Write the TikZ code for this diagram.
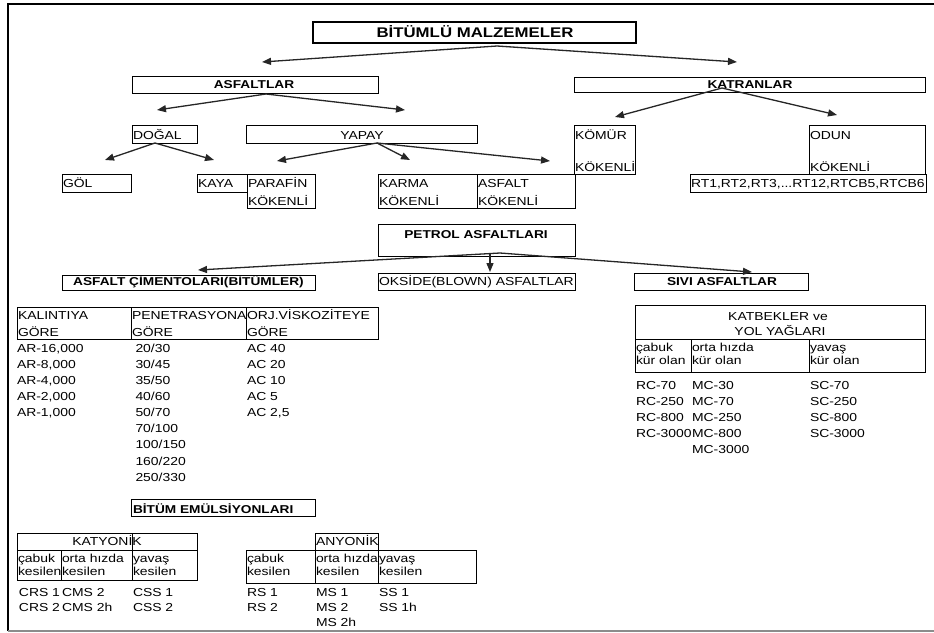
\documentclass[tikz,border=0pt]{standalone}
\usepackage{fontspec}
\setmainfont{Liberation Sans}[FakeStretch=1.2]
\usetikzlibrary{arrows.meta}
\newcommand{\bx}[6][]{\node[box,#1,minimum width={#5pt-#3pt},minimum height={#6pt-#4pt}] (#2) at (#3,#4) {};}
\begin{document}
\begin{tikzpicture}[x=1pt,y=-1pt,
  box/.style={draw=black,line width=0.9pt,inner sep=0pt,outer sep=0pt,anchor=north west},
  txt/.style={inner sep=0pt,outer sep=0pt,anchor=base west,text=black,font=\fontsize{11.6}{13}\selectfont},
  ctxt/.style={txt,anchor=base},
  btxt/.style={txt,font=\fontsize{11.4}{13}\selectfont\bfseries},
  bctxt/.style={btxt,anchor=base},
  arr/.style={line width=1.3pt,draw=black!85,-{Triangle[length=9pt,width=7pt]}}]
\useasboundingbox (0,0) rectangle (934,632);
% frame
\draw[line width=1.5pt] (8,631) -- (8,4) -- (934,4);
\draw[line width=1.2pt,black!45] (8,631) -- (934,631);

% top level
\bx[line width=1.8pt]{title}{313}{22}{636}{43}
\node[bctxt,font=\fontsize{14}{16}\selectfont\bfseries] (titlet) at (475,37.5) {BİTÜMLÜ MALZEMELER};
\bx{asf}{132}{76}{378}{93}
\node[bctxt] (asft) at (254,88.7) {ASFALTLAR};
\bx{kat}{574}{77}{925}{92}
\node[bctxt] (katt) at (750,88.5) {KATRANLAR};

\coordinate (t0) at (497,46);
\coordinate (ta1) at (262,62);
\coordinate (ta2) at (737,62);
\draw[arr] (t0) -- (ta1);
\draw[arr] (t0) -- (ta2);

% asfaltlar branch
\bx{dog}{132}{125}{197}{143}
\node[txt] (dogt) at (133,139) {DOĞAL};
\bx{yap}{246}{125}{477}{143}
\node[ctxt] (yapt) at (362,139) {YAPAY};
\coordinate (as0) at (266,94);
\coordinate (as1) at (157,110);
\coordinate (as2) at (405,110);
\draw[arr] (as0) -- (as1);
\draw[arr] (as0) -- (as2);

\bx{gol}{62}{174}{131}{192}
\node[txt] (golt) at (63,187.5) {GÖL};
\bx{kaya}{197}{174}{247}{192}
\node[txt] (kayat) at (198,187.5) {KAYA};
\coordinate (do0) at (155,143);
\coordinate (do1) at (105,160);
\coordinate (do2) at (214,160);
\draw[arr] (do0) -- (do1);
\draw[arr] (do0) -- (do2);

\bx{par}{247}{174}{315}{208}
\node[txt] (part1) at (248,187.5) {PARAFİN};
\node[txt] (part2) at (248,205.5) {KÖKENLİ};
\bx{kar}{378}{174}{477}{208}
\node[txt] (kart1) at (379,187.5) {KARMA};
\node[txt] (kart2) at (379,205.5) {KÖKENLİ};
\bx{asfk}{477}{174}{575}{208}
\node[txt] (asfkt1) at (478,187.5) {ASFALT};
\node[txt] (asfkt2) at (478,205.5) {KÖKENLİ};
\coordinate (ya0) at (377,143);
\coordinate (ya1) at (277,161);
\coordinate (ya2) at (410,160);
\coordinate (ya3) at (550,161);
\draw[arr] (ya0) -- (ya1);
\draw[arr] (ya0) -- (ya2);
\draw[arr] (ya0) -- (ya3);

% katranlar branch
\bx{kom}{574}{125}{635}{174}
\node[txt] (komt1) at (575,139) {KÖMÜR};
\node[txt] (komt2) at (575,171) {KÖKENLİ};
\bx{odun}{809}{125}{925}{174}
\node[txt] (odunt1) at (810,139) {ODUN};
\node[txt] (odunt2) at (810,171) {KÖKENLİ};
\bx{rt}{690}{174}{926}{192}
\node[txt] (rtt) at (691,187.5) {RT1,RT2,RT3,...RT12,RTCB5,RTCB6};
\coordinate (ka0) at (722,88);
\coordinate (ka1) at (615,117);
\coordinate (ka2) at (837,115);
\draw[arr] (ka0) -- (ka1);
\draw[arr] (ka0) -- (ka2);

% petrol asfaltlari
\bx{pet}{378}{224}{575}{256}
\node[bctxt] (pett) at (476,238) {PETROL ASFALTLARI};
\bx{cim}{62}{275}{315}{290}
\node[bctxt] (cimt) at (188.5,285.5) {ASFALT ÇİMENTOLARI(BİTÜMLER)};
\bx{oks}{378}{273}{575}{290}
\node[txt] (okst) at (379,285.5) {OKSİDE(BLOWN) ASFALTLAR};
\bx{siv}{634}{273}{808}{290}
\node[bctxt] (sivt) at (722,285.5) {SIVI ASFALTLAR};
\coordinate (pe0) at (500,253);
\coordinate (pe1) at (198,270);
\coordinate (pe3) at (752,272);
\coordinate (pe2s) at (490,254);
\coordinate (pe2) at (490,272);
\draw[arr] (pe0) -- (pe1);
\draw[arr] (pe0) -- (pe3);
\draw[arr] (pe2s) -- (pe2);

% bitumen table
\bx{h1}{17}{307}{131}{339}
\bx{h2}{131}{307}{246}{339}
\bx{h3}{246}{307}{378}{339}
\node[txt] (h1a) at (18,319) {KALINTIYA};
\node[txt] (h1b) at (18,336) {GÖRE};
\node[txt] (h2a) at (132,319) {PENETRASYONA};
\node[txt] (h2b) at (132,336) {GÖRE};
\node[txt] (h3a) at (247,319) {ORJ.VİSKOZİTEYE};
\node[txt] (h3b) at (247,336) {GÖRE};
\foreach \t [count=\i] in {{AR-16,000},{AR-8,000},{AR-4,000},{AR-2,000},{AR-1,000}}
  \node[txt] (ar\i) at (17,{352.3+16.1*(\i-1)}) {\t};
\foreach \t [count=\i] in {20/30,30/45,35/50,40/60,50/70,70/100,100/150,160/220,250/330}
  \node[txt] (pn\i) at (135.5,{352.3+16.1*(\i-1)}) {\t};
\foreach \t [count=\i] in {AC 40,AC 20,AC 10,AC 5,{AC 2,5}}
  \node[txt] (ac\i) at (247,{352.3+16.1*(\i-1)}) {\t};

% sivi asfaltlar table
\bx{kb}{635}{305}{925}{339}
\node[ctxt] (kbt1) at (778,320) {KATBEKLER ve};
\node[ctxt] (kbt2) at (780,335) {YOL YAĞLARI};
\bx{kb1}{635}{339}{691}{372}
\bx{kb2}{691}{339}{809}{372}
\bx{kb3}{809}{339}{925}{372}
\node[txt] (kb1a) at (636,351.5) {çabuk};
\node[txt] (kb1b) at (636,364.5) {kür olan};
\node[txt] (kb2a) at (692,351.5) {orta hızda};
\node[txt] (kb2b) at (692,364.5) {kür olan};
\node[txt] (kb3a) at (810,351.5) {yavaş};
\node[txt] (kb3b) at (810,364.5) {kür olan};
\foreach \t [count=\i] in {RC-70,RC-250,RC-800,RC-3000}
  \node[txt] (rc\i) at (636,{389+16*(\i-1)}) {\t};
\foreach \t [count=\i] in {MC-30,MC-70,MC-250,MC-800,MC-3000}
  \node[txt] (mc\i) at (692,{389+16*(\i-1)}) {\t};
\foreach \t [count=\i] in {SC-70,SC-250,SC-800,SC-3000}
  \node[txt] (sc\i) at (810,{389+16*(\i-1)}) {\t};

% emulsions
\bx{em}{131}{499}{315}{516}
\node[btxt] (emt) at (133,513.5) {BİTÜM EMÜLSİYONLARI};

\bx{cat}{17}{533}{197}{550}
\draw[line width=0.9pt] (132,533) -- (132,550);
\node[ctxt] (catt) at (107,545.5) {KATYONİK};
\bx{c1}{17}{550}{61}{580}
\bx{c2}{61}{550}{132}{580}
\bx{c3}{132}{550}{197}{580}
\node[txt] (c1a) at (18,562) {çabuk};
\node[txt] (c1b) at (18,575.5) {kesilen};
\node[txt] (c2a) at (62,562) {orta hızda};
\node[txt] (c2b) at (62,575.5) {kesilen};
\node[txt] (c3a) at (133,562) {yavaş};
\node[txt] (c3b) at (133,575.5) {kesilen};
\foreach \t [count=\i] in {CRS 1,CRS 2}
  \node[txt] (crs\i) at (19,{596+15.2*(\i-1)}) {\t};
\foreach \t [count=\i] in {CMS 2,CMS 2h}
  \node[txt] (cms\i) at (62,{596+15.2*(\i-1)}) {\t};
\foreach \t [count=\i] in {CSS 1,CSS 2}
  \node[txt] (css\i) at (133,{596+15.2*(\i-1)}) {\t};

\bx{an}{315}{533}{378}{550}
\node[txt] (ant) at (316,545.5) {ANYONİK};
\bx{a1}{246}{550}{315}{583}
\bx{a2}{315}{550}{378}{583}
\bx{a3}{378}{550}{476}{583}
\node[txt] (a1a) at (247,562) {çabuk};
\node[txt] (a1b) at (247,575.5) {kesilen};
\node[txt] (a2a) at (316,562) {orta hızda};
\node[txt] (a2b) at (316,575.5) {kesilen};
\node[txt] (a3a) at (379,562) {yavaş};
\node[txt] (a3b) at (379,575.5) {kesilen};
\foreach \t [count=\i] in {RS 1,RS 2}
  \node[txt] (rs\i) at (247,{596+15.2*(\i-1)}) {\t};
\foreach \t [count=\i] in {MS 1,MS 2,MS 2h}
  \node[txt] (ms\i) at (316,{596+15.2*(\i-1)}) {\t};
\foreach \t [count=\i] in {SS 1,SS 1h}
  \node[txt] (ss\i) at (379,{596+15.2*(\i-1)}) {\t};
\end{tikzpicture}
\end{document}
